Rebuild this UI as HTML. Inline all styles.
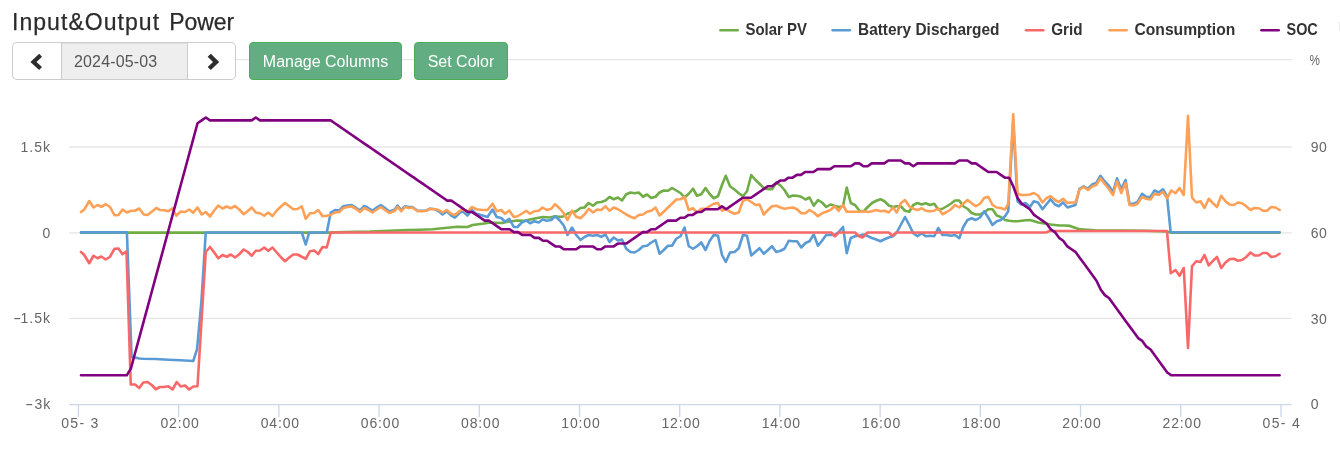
<!DOCTYPE html>
<html lang="en"><head><meta charset="utf-8"><title>Input&amp;Output Power</title>
<style>
html,body{margin:0;padding:0;background:#fff;}
body{width:1340px;height:450px;position:relative;overflow:hidden;font-family:"Liberation Sans",Arial,sans-serif;}
#chart{position:absolute;left:0;top:0;width:1340px;height:450px;}
h3{position:absolute;left:12px;top:8px;margin:0;font-weight:400;font-size:23px;line-height:28px;color:#2b2b2b;letter-spacing:1.05px;white-space:pre;-webkit-text-stroke:0.25px #2b2b2b;}
h3 span{position:absolute;left:151px;top:0;letter-spacing:-0.1px;}
.grp{position:absolute;left:12px;top:42px;height:38px;width:224px;box-sizing:border-box;display:flex;}
.grp div{box-sizing:border-box;height:38px;border:1px solid #ccc;background:#fff;}
.grp .l{width:49px;border-radius:5px 0 0 5px;border-right:0;}
.grp .m{width:127px;background:#eee;color:#555;font-size:16px;line-height:38px;padding-left:12px;letter-spacing:0.15px;box-shadow:inset 0 1px 1px rgba(0,0,0,.075);}
.grp .r{width:48px;border-radius:0 5px 5px 0;border-left:0;}
.grp svg{display:block}
.btn{position:absolute;top:42px;height:38px;box-sizing:border-box;background:#62ad82;border:1px solid #4aab52;border-radius:4px;color:#fff;font-size:16px;line-height:38px;text-align:center;white-space:nowrap;}
#b1{left:249px;width:153px;}
#b2{left:414px;width:94px;}
</style></head><body>
<svg id="chart" width="1340" height="450" viewBox="0 0 1340 450">
<rect width="1340" height="450" fill="#fff"/>
<rect x="1339" y="22" width="1" height="9" fill="#ebebef"/>
<g stroke="#e6e6e6" stroke-width="1.3" fill="none">
<path d="M69.1 59.7H1291.7"/><path d="M69.1 147H1291.7"/><path d="M69.1 232.8H1291.7"/><path d="M69.1 318.35H1291.7"/>
</g>
<g stroke="#ccd6eb" stroke-width="1.3" fill="none"><path d="M69.1 404.65H1291.7"/><path d="M78.45 404V417"/><path d="M178.66 404V417"/><path d="M278.87 404V417"/><path d="M379.08 404V417"/><path d="M479.29 404V417"/><path d="M579.50 404V417"/><path d="M679.71 404V417"/><path d="M779.92 404V417"/><path d="M880.13 404V417"/><path d="M980.34 404V417"/><path d="M1080.55 404V417"/><path d="M1180.76 404V417"/><path d="M1280.97 404V417"/></g>
<g fill="none" stroke-width="2.6" stroke-linejoin="round" stroke-linecap="round">
<path d="M81 232.6 L330 232.6 L345 232 L370 231.6 L395 230.5 L407.5 230 L420 229.75 L432.5 229.25 L445 228 L457.5 226.75 L467.5 227 L472.5 225 L482.5 223.75 L490 222.5 L495 222.75 L502.5 223 L507.5 221.75 L517.5 220.5 L525 220.75 L530 219.5 L537.5 218 L542.5 217 L550 217.5 L555 216.25 L559.25 216.75 L560 217 L563.75 216.25 L567.5 213.75 L572 212 L576.25 211.25 L580.5 208 L584.5 207.5 L588.75 203 L593 205.75 L597 202.5 L601.25 202 L605.5 200.5 L609.5 197 L613.75 199.25 L618 197.5 L622 200.5 L626.25 194.25 L630.5 192.5 L634.5 193.25 L638.75 192.5 L643 196.75 L647 194.5 L651.25 198 L655.5 196.75 L659.5 192.5 L663.75 190.5 L668 190.75 L672 188 L676.25 190.5 L680.5 193 L684.5 197.5 L688.75 193.75 L693 188.75 L697 195.75 L701.25 194.25 L705.5 188 L709.5 193.75 L713.75 198.25 L718 196.25 L722 185 L725.75 175.75 L730 186.25 L734.5 189.5 L738.75 193.25 L743 196.25 L747 191.25 L751.25 175 L755.5 180 L759.5 183.75 L763.75 188 L768 189.25 L772 189.25 L776.25 182.5 L780.5 185.5 L784.5 190 L788.75 197 L793 195.5 L797 195.75 L801.25 196.75 L805.5 199.5 L809.5 197.5 L813.75 205.75 L818 200 L822 202.5 L826.25 207 L830.5 204.5 L834.5 205.75 L838.75 207 L843 206.25 L846.75 187.5 L850.75 203 L855 205 L859.5 210.75 L863.75 211.25 L868 206.75 L872 203 L876.25 200.75 L880.5 199.25 L884.5 201.25 L888.75 205.5 L893 207 L896.75 206.25 L900.75 206.25 L905 210.75 L909.25 211.75 L913.25 205 L917.5 203 L921.75 204.5 L925.75 203.25 L930 205 L934.25 203.75 L938.25 209.5 L942.5 208.75 L946.75 206.25 L950.75 203.75 L955 200.5 L959.25 200.5 L963.25 206.25 L967.5 208.75 L971.75 213 L975.75 214.5 L980 214.5 L984.25 212.5 L988.25 209.25 L992.5 209.25 L996.75 215.5 L1000.75 217 L1005 220 L1009.25 220.75 L1013.25 221.25 L1017.5 221.25 L1021.75 220.75 L1025.75 220.25 L1030 220 L1034.25 221.25 L1038.25 222.5 L1042.5 223.25 L1046.75 223.75 L1050.75 224.5 L1055 225 L1059.25 225.5 L1065 225.5 L1070 225.9 L1080 229.4 L1095 230.2 L1145 230.8 L1166 231.5 L1171 232.6 L1279.6 232.6" stroke="#70ad47"/>
<path d="M81 232.4 L126.9 232.4 L131.6 357 L135 357.5 L139.25 358.5 L143.25 358.75 L155.75 359 L168.25 359.75 L180.75 360.25 L193.25 361 L197 349.5 L199.5 322.5 L201.5 300 L205.75 232.5 L301.75 232.5 L305.75 244.5 L309.25 232.5 L326.75 232.5 L330.75 212.5 L335 210 L339.25 210.5 L343.25 206.25 L347.5 205.5 L351.75 205 L355.75 207.5 L360 210.5 L364.25 206 L368.25 208 L372.5 210.5 L376.75 207.5 L380.75 205 L385 208 L389.25 211.5 L395 209.5 L397.5 205.5 L401.25 210 L405 206.25 L408.75 207 L412.5 207 L417.5 210.75 L422.5 210.75 L426.25 210.5 L430 208.75 L435 209.25 L438.75 211.25 L442.5 214.5 L446.75 211.25 L451.25 215.5 L455 217.5 L459.25 213.25 L462.5 211.25 L467.5 215.5 L471.75 210 L476.25 213.75 L482.5 215.5 L487.5 217 L492.5 209.5 L496.75 217 L501.25 218 L505 221.75 L509.25 218.75 L513.75 227 L517.5 227 L521.75 222.5 L526.25 220.5 L530 223.25 L534.25 221.25 L538.75 222.5 L542.5 219.5 L546.75 220.75 L551.25 220 L555 216.25 L559.25 220 L560 220.75 L563.75 225.5 L567.5 235 L572 227.5 L576.25 235 L580.5 240 L584.5 237 L588.75 235 L593 235.75 L597 235 L601.25 236.75 L605.5 234.5 L609.5 242 L613.75 237.5 L618 240.5 L622 239.5 L626.25 248.75 L630.5 252 L634.5 252.5 L638.75 250 L643 246.25 L647 245.75 L651.25 242.5 L655.5 240 L659.5 253.75 L663.75 250 L668 245.75 L672 245.75 L676.25 238.75 L680.5 236.25 L684.5 227.5 L688.75 246.25 L693 248.75 L697 246.25 L701.25 242.5 L705.5 250 L709.5 241.25 L713.75 235 L718 235.75 L722 255 L725.75 262 L730 252.5 L734.5 252 L738.75 248.25 L743 235 L747 235.75 L751.25 255.5 L755.5 251.75 L759.5 248.25 L763.75 253.75 L768 250 L772 246.25 L776.25 252 L780.5 250.75 L784.5 248.75 L788.75 240.75 L793 241.25 L797 241.25 L801.25 247.5 L805.5 243 L809.5 241.25 L813.75 234.5 L818 245.75 L822 240.75 L826.25 235 L830.5 235 L834.5 235 L838.75 232 L843 227 L846.75 253.25 L850.75 238 L855 236.25 L859.5 235.5 L863.75 234.5 L868 236.25 L872 238 L876.25 239.5 L880.5 241.25 L884.5 239.25 L888.75 237.5 L893 236.25 L896.75 232.5 L900.75 225 L905 217 L909.25 225 L913.25 233.25 L917.5 236.25 L921.75 233.25 L925.75 236.25 L930 235.75 L934.25 236.25 L938.25 228 L942.5 235 L946.75 235 L950.75 235.75 L955 235 L959.25 238.25 L963.25 227 L967.5 220 L971.75 218.25 L975.75 220 L980 217.5 L984.25 211.25 L988.25 217.5 L992.5 225 L996.75 221.25 L1000.75 220 L1005 216.25 L1008.25 211.25 L1013.2 121.5 L1017.5 201.25 L1021.25 204.5 L1025.5 203 L1030 207 L1033.75 201.25 L1038 202.5 L1042.5 209.25 L1046.25 204.5 L1050.5 199.25 L1055 204.5 L1058.75 206.25 L1063 202.5 L1067.5 207.5 L1071.25 206.25 L1075.5 205 L1079.5 188.75 L1083.75 186.25 L1088 188.75 L1092.5 184.25 L1096.25 183 L1100.5 175.75 L1104.5 181.25 L1108.75 185.75 L1113 192 L1117 178.25 L1121.25 189.5 L1125.5 180 L1129.5 203.75 L1133.75 203.75 L1137.5 202 L1142 193.75 L1146.25 196.75 L1150.5 197 L1154.5 190.5 L1158.75 192.5 L1163 189.25 L1167 196.25 L1170.7 232.3 L1279.6 232.3" stroke="#5b9bd5"/>
<path d="M81 252 L84.25 255 L89.25 263.25 L93.5 255.75 L97.5 258.25 L101.25 256.5 L105.75 259.5 L110 256.75 L114.5 248.75 L118.5 248.5 L122.5 254.25 L126.5 251.25 L130.75 384.5 L135 384.5 L139.25 388 L143.25 382.5 L147.5 382 L151.75 385 L155.75 389.25 L160 387 L164.25 387 L168.25 386.25 L172.5 389.5 L176.75 382 L180.75 386.5 L185 385.5 L189.25 389.5 L193.25 386.5 L197.5 386.25 L205.75 252 L210 247 L214.25 252.5 L218.25 258.25 L222.5 255 L226.75 256.75 L230.75 254.5 L235 257.5 L239.25 254.25 L243.75 249.5 L247.5 251.75 L251.75 255.75 L255.75 250.75 L260 250.5 L264.25 247.5 L268.25 250.75 L272.5 247.5 L276.75 252.5 L280.75 257 L285 261.25 L289.25 257.5 L293.25 254.5 L297.5 254.5 L301.75 256.75 L305.75 258.75 L310 251.25 L314.25 250.5 L318.25 254 L322.5 247 L326.75 247.5 L330.75 232.5 L831.25 232.5 L835 236.25 L838.75 232.5 L855 232.5 L858.75 236.25 L862.5 237.5 L867.5 232.5 L888.75 232.5 L892.5 235.75 L896.25 232.5 L1046 232.5 L1049.5 231 L1167 231 L1170.75 273.25 L1175.5 270 L1179.5 275.75 L1183.75 268 L1188 348 L1192 266.25 L1196.25 261.25 L1200.5 262 L1204.5 255 L1208.75 265.5 L1213 260.75 L1217 257 L1221.25 268 L1225.5 262.5 L1229.5 259.25 L1233.75 258.75 L1238 260.75 L1242 260 L1246.25 257 L1250.5 252.5 L1254.5 255.5 L1258.75 255.5 L1263 253 L1267 253 L1271.25 257 L1275.5 256.25 L1279.6 253.75" stroke="#f96868"/>
<path d="M81 212 L84.25 209.5 L89.25 201 L93.5 207.5 L97.5 205 L101.25 206.75 L105.75 204.25 L110 207 L114.5 215.25 L118.5 215 L122.5 209.5 L126.75 212.5 L131.25 210.75 L135 210.75 L139.25 208.5 L143.75 214.5 L147.5 215 L151.75 211.75 L156.25 208 L160 210 L164.25 210.25 L168.25 211.25 L172.5 208.25 L176.25 215.75 L180.75 211.5 L185 212 L189.25 209.5 L193.25 212.75 L197.5 207.5 L201.75 214.5 L205.75 212 L210 216.5 L214.25 210.5 L218.25 205.5 L222.5 208.5 L226.75 206.5 L230.75 208.25 L235 206 L239.25 209.5 L243.75 214.25 L247.5 211.25 L251.75 207.5 L255.75 212.5 L260 213.25 L264.25 215.75 L268.25 212.5 L272.5 216 L276.75 210.5 L280.75 206.75 L285 203 L289.25 206.25 L293.25 209.25 L297.5 209 L301.75 206.25 L305.75 218.75 L310 213.25 L314.25 213 L318.25 210 L322.5 216.25 L326.75 215.75 L330.75 215 L335 212.5 L339.25 212 L343.25 208 L347.5 207 L351.75 206.5 L355.75 208.75 L360 212 L364.25 208 L368.25 210 L372.5 212.5 L376.75 209.5 L380.75 207 L385 210 L389.25 213 L395 210.75 L397.5 207 L401.25 211.25 L405 207 L408.75 208 L412.5 207.5 L417.5 211.25 L422.5 211.25 L426.25 210.75 L430 208.75 L435 209.25 L438.75 210 L442.5 212.5 L446.75 210 L451.25 213.75 L455 215 L459.25 211.25 L462.5 209.25 L467.5 211.75 L471.75 207 L476.25 209.25 L482.5 210 L487.5 210 L492.5 203.75 L496.75 211.25 L501.25 210 L505 213.75 L509.25 210.5 L513.75 217 L517.5 216.25 L521.75 213.75 L526.25 210.75 L530 213.75 L534.25 211.25 L538.75 210.75 L542.5 207.5 L546.75 210 L551.25 208.75 L555 204.25 L559.25 208 L560 208.75 L563.75 213.25 L567.5 220 L572 210.75 L576.25 216.75 L580.5 218.25 L584.5 214.5 L588.75 208.75 L593 212.5 L597 209.5 L601.25 210 L605.5 206.25 L609.5 210.75 L613.75 207.5 L618 209.25 L622 211.75 L626.25 214.5 L630.5 216.75 L634.5 218.25 L638.75 215 L643 214.5 L647 211.75 L651.25 210.75 L655.5 207.5 L659.5 215.5 L663.75 211.75 L668 207.5 L672 203.75 L676.25 199.5 L680.5 199.25 L684.5 197 L688.75 210 L693 208.25 L697 212.5 L701.25 208.75 L705.5 208.75 L709.5 206.25 L713.75 203.75 L718 203 L722 210.75 L725.75 208.75 L730 211.75 L734.5 213.75 L738.75 212.5 L743 200.75 L747 199.25 L751.25 202 L755.5 205 L759.5 204.5 L763.75 214.5 L768 210 L772 206.25 L776.25 205.75 L780.5 207.5 L784.5 208.75 L788.75 208 L793 207.5 L797 209.25 L801.25 213.25 L805.5 213.25 L809.5 210 L813.75 212.5 L818 216.25 L822 213.25 L826.25 211.75 L830.5 210 L834.5 206.25 L838.75 210.75 L843 205 L846.75 211.75 L850.75 211.75 L855 211.75 L859.5 211.75 L863.75 211.25 L868 212 L872 211.25 L876.25 210 L880.5 211.25 L884.5 210.75 L888.75 212.5 L893 207.5 L896.75 212.5 L900.75 203.25 L905 200 L909.25 206.25 L913.25 208.75 L917.5 210 L921.75 208.25 L925.75 210.75 L930 211.25 L934.25 210.75 L938.25 208.25 L942.5 214.25 L946.75 212 L950.75 209.5 L955 205 L959.25 207.5 L963.25 203.75 L967.5 200 L971.75 203.25 L975.75 206.25 L980 203.75 L984.25 198 L988.25 196.75 L992.5 205 L996.75 207.5 L1000.75 208 L1005 209.5 L1008.25 203.75 L1013.2 114.25 L1017.5 193.5 L1021.25 195 L1025.5 195 L1030 194.5 L1033.75 193 L1038 195.5 L1042.5 202.5 L1046.25 198.25 L1050.5 196.25 L1055 200 L1058.75 202 L1063 198.75 L1067.5 203 L1071.25 202.5 L1075.5 202.5 L1079.5 189.5 L1083.75 187 L1088 190 L1092.5 186.25 L1096.25 185 L1100.5 178.25 L1104.5 183.75 L1108.75 188.75 L1113 195 L1117 181.25 L1121.25 193 L1125.5 183 L1129.5 205 L1133.75 205.5 L1137.5 203.75 L1142 197 L1146.25 198.75 L1150.5 199.5 L1154.5 193.75 L1158.75 195 L1163 191.75 L1167 198.25 L1171.25 190.5 L1175.5 193.25 L1179.5 188 L1183.75 195 L1188 115.75 L1192 197.5 L1196.25 202.5 L1200.5 201.25 L1204.5 208 L1208.75 198.75 L1213 203.25 L1217 207 L1221.25 195.75 L1225.5 201.25 L1229.5 204.5 L1233.75 205 L1238 202.5 L1242 203.25 L1246.25 206.25 L1250.5 210 L1254.5 208 L1258.75 208.25 L1263 210.75 L1267 210.75 L1271.25 207 L1275.5 207.5 L1279.6 210" stroke="#ffa057"/>
<path d="M81 375.31 L85.16 375.31 L89.32 375.31 L93.49 375.31 L97.65 375.31 L101.81 375.31 L105.97 375.31 L110.13 375.31 L114.29 375.31 L118.46 375.31 L122.62 375.31 L126.78 375.31 L130.94 368.29 L135.1 352.98 L139.27 337.67 L143.43 322.35 L147.59 307.04 L151.75 291.73 L155.91 276.41 L160.07 261.1 L164.24 245.79 L168.4 230.47 L172.56 215.16 L176.72 199.85 L180.88 184.53 L185.05 169.22 L189.21 153.9 L193.37 138.59 L197.53 123.28 L201.69 120.41 L205.85 117.55 L210.02 120.41 L214.18 120.41 L218.34 120.41 L222.5 120.41 L226.66 120.41 L230.82 120.41 L234.99 120.41 L239.15 120.41 L243.31 120.41 L247.47 120.41 L251.63 120.41 L255.8 117.55 L259.96 120.41 L264.12 120.41 L268.28 120.41 L272.44 120.41 L276.6 120.41 L280.77 120.41 L284.93 120.41 L289.09 120.41 L293.25 120.41 L297.41 120.41 L301.58 120.41 L305.74 120.41 L309.9 120.41 L314.06 120.41 L318.22 120.41 L322.38 120.41 L326.55 120.41 L330.71 120.41 L334.87 123.28 L339.03 126.14 L343.19 129.01 L347.36 131.87 L351.52 134.73 L355.68 137.6 L359.84 140.46 L364 143.33 L368.16 146.19 L372.33 149.05 L376.49 151.92 L380.65 154.78 L384.81 157.65 L388.97 160.51 L393.14 163.37 L397.3 166.24 L401.46 169.1 L405.62 171.97 L409.78 174.83 L413.94 177.69 L418.11 180.56 L422.27 183.42 L426.43 186.29 L430.59 189.15 L434.75 192.01 L438.91 194.88 L443.08 197.74 L447.24 200.61 L451.4 200.61 L455.56 203.47 L459.72 206.33 L463.89 209.2 L468.05 212.06 L472.21 212.06 L476.37 214.93 L480.53 217.79 L484.69 220.65 L488.86 220.65 L493.02 223.52 L497.18 226.38 L501.34 229.25 L505.5 229.25 L509.67 229.25 L513.83 232.11 L517.99 232.11 L522.15 234.97 L526.31 234.97 L530.47 234.97 L534.64 237.84 L538.8 237.84 L542.96 240.7 L547.12 240.7 L551.28 243.57 L555.45 246.43 L559.61 246.43 L563.77 249.29 L567.93 249.29 L572.09 249.29 L576.25 249.29 L580.42 246.43 L584.58 246.43 L588.74 246.43 L592.9 246.43 L597.06 249.29 L601.23 249.29 L605.39 246.43 L609.55 246.43 L613.71 246.43 L617.87 243.57 L622.03 243.57 L626.2 243.57 L630.36 240.7 L634.52 237.84 L638.68 234.97 L642.84 232.11 L647 232.11 L651.17 229.25 L655.33 229.25 L659.49 226.38 L663.65 223.52 L667.81 220.65 L671.98 220.65 L676.14 220.65 L680.3 217.79 L684.46 217.79 L688.62 214.93 L692.78 214.93 L696.95 212.06 L701.11 212.06 L705.27 209.2 L709.43 209.2 L713.59 209.2 L717.76 209.2 L721.92 206.33 L726.08 209.2 L730.24 206.33 L734.4 203.47 L738.56 200.61 L742.73 197.74 L746.89 197.74 L751.05 197.74 L755.21 194.88 L759.37 192.01 L763.54 189.15 L767.7 186.29 L771.86 186.29 L776.02 183.42 L780.18 180.56 L784.34 180.56 L788.51 177.69 L792.67 177.69 L796.83 174.83 L800.99 174.83 L805.15 171.97 L809.32 171.97 L813.48 171.97 L817.64 169.1 L821.8 169.1 L825.96 169.1 L830.12 169.1 L834.29 166.24 L838.45 166.24 L842.61 166.24 L846.77 166.24 L850.93 166.24 L855.09 163.37 L859.26 163.37 L863.42 166.24 L867.58 166.24 L871.74 163.37 L875.9 163.37 L880.07 163.37 L884.23 163.37 L888.39 160.51 L892.55 160.51 L896.71 160.51 L900.87 160.51 L905.04 163.37 L909.2 163.37 L913.36 166.24 L917.52 163.37 L921.68 163.37 L925.85 163.37 L930.01 163.37 L934.17 163.37 L938.33 163.37 L942.49 163.37 L946.65 163.37 L950.82 163.37 L954.98 163.37 L959.14 160.51 L963.3 160.51 L967.46 160.51 L971.63 163.37 L975.79 163.37 L979.95 166.24 L984.11 169.1 L988.27 171.97 L992.43 171.97 L996.6 171.97 L1000.76 174.83 L1004.92 177.69 L1009.08 177.69 L1013.24 186.29 L1017.41 197.74 L1021.57 203.47 L1025.73 206.33 L1029.89 209.2 L1034.05 214.93 L1038.21 217.79 L1042.38 220.65 L1046.54 223.52 L1050.7 229.25 L1054.86 232.11 L1059.02 237.84 L1063.18 240.7 L1067.35 246.43 L1071.51 249.29 L1075.67 252.16 L1079.83 257.89 L1083.99 263.61 L1088.16 269.34 L1092.32 275.07 L1096.48 280.8 L1100.64 289.39 L1104.8 295.12 L1108.96 297.98 L1113.13 303.71 L1117.29 309.44 L1121.45 315.17 L1125.61 320.89 L1129.77 326.62 L1133.94 332.35 L1138.1 338.08 L1142.26 340.94 L1146.42 346.67 L1150.58 349.53 L1154.74 355.26 L1158.91 360.99 L1163.07 366.72 L1167.23 372.45 L1171.39 375.31 L1175.55 375.31 L1179.72 375.31 L1183.88 375.31 L1188.04 375.31 L1192.2 375.31 L1196.36 375.31 L1200.52 375.31 L1204.69 375.31 L1208.85 375.31 L1213.01 375.31 L1217.17 375.31 L1221.33 375.31 L1225.5 375.31 L1229.66 375.31 L1233.82 375.31 L1237.98 375.31 L1242.14 375.31 L1246.3 375.31 L1250.47 375.31 L1254.63 375.31 L1258.79 375.31 L1262.95 375.31 L1267.11 375.31 L1271.27 375.31 L1275.44 375.31 L1279.6 375.31" stroke="#800080"/>
</g>
<g font-family="'Liberation Sans',Arial,sans-serif" font-size="14px" fill="#666" letter-spacing="0.45">
<g letter-spacing="0"><text x="20.6" y="151.7" textLength="29.4" lengthAdjust="spacing">1.5k</text><text x="50.2" y="237.6" text-anchor="end">0</text><text y="323.3"><tspan x="13.2" textLength="8" lengthAdjust="spacingAndGlyphs">-</tspan><tspan x="20.6" textLength="29.4" lengthAdjust="spacing">1.5k</tspan></text><text y="409.3"><tspan x="25.2" textLength="8" lengthAdjust="spacingAndGlyphs">-</tspan><tspan x="34.4" textLength="15.8" lengthAdjust="spacing">3k</tspan></text></g>
<g text-anchor="start" transform="translate(0.8 0)"><text x="1308.6" y="65" textLength="10.8" lengthAdjust="spacingAndGlyphs">%</text><text x="1310" y="152">90</text><text x="1310" y="238">60</text><text x="1310" y="324">30</text><text x="1310" y="409.3">0</text></g>
<text x="61.2" y="428.2" textLength="37.2" lengthAdjust="spacing" letter-spacing="0">05- 3</text><text x="180.1" y="428.2" text-anchor="middle" letter-spacing="0.85">02:00</text><text x="280.3" y="428.2" text-anchor="middle" letter-spacing="0.85">04:00</text><text x="380.5" y="428.2" text-anchor="middle" letter-spacing="0.85">06:00</text><text x="480.7" y="428.2" text-anchor="middle" letter-spacing="0.85">08:00</text><text x="580.9" y="428.2" text-anchor="middle" letter-spacing="0.85">10:00</text><text x="681.1" y="428.2" text-anchor="middle" letter-spacing="0.85">12:00</text><text x="781.3" y="428.2" text-anchor="middle" letter-spacing="0.85">14:00</text><text x="881.5" y="428.2" text-anchor="middle" letter-spacing="0.85">16:00</text><text x="981.7" y="428.2" text-anchor="middle" letter-spacing="0.85">18:00</text><text x="1082.0" y="428.2" text-anchor="middle" letter-spacing="0.85">20:00</text><text x="1182.2" y="428.2" text-anchor="middle" letter-spacing="0.85">22:00</text><text x="1262.6" y="428.2" textLength="37.2" lengthAdjust="spacing" letter-spacing="0">05- 4</text>
</g>
<g font-family="'Liberation Sans',Arial,sans-serif" font-size="15.7px" font-weight="bold" fill="#333" fill-opacity="1">
<path d="M720.5 30.3H737.6999999999999" stroke="#70ad47" stroke-width="2.6" stroke-linecap="round"/><text x="745.5" y="35" textLength="61.5" lengthAdjust="spacingAndGlyphs">Solar PV</text><path d="M832.6 30.3H849.8" stroke="#5b9bd5" stroke-width="2.6" stroke-linecap="round"/><text x="858" y="35" textLength="141.5" lengthAdjust="spacingAndGlyphs">Battery Discharged</text><path d="M1026.1000000000001 30.3H1043.3000000000002" stroke="#f96868" stroke-width="2.6" stroke-linecap="round"/><text x="1051.2" y="35" textLength="31.3" lengthAdjust="spacingAndGlyphs">Grid</text><path d="M1109.4 30.3H1126.6000000000001" stroke="#ffa057" stroke-width="2.6" stroke-linecap="round"/><text x="1134.5" y="35" textLength="100.8" lengthAdjust="spacingAndGlyphs">Consumption</text><path d="M1261.5 30.3H1278.7" stroke="#800080" stroke-width="2.6" stroke-linecap="round"/><text x="1286.5" y="35" textLength="31.3" lengthAdjust="spacingAndGlyphs">SOC</text>
</g>
</svg>
<h3>Input&amp;Output<span> Power</span></h3>
<div class="grp"><div class="l"><svg width="48" height="36" viewBox="0 0 48 36"><path d="M17.4 18.9L26.2 10.7L29 13.7L23.5 18.9L29 24.1L26.2 27.1Z" fill="#2d2d2d"/></svg></div><div class="m">2024-05-03</div><div class="r"><svg width="47" height="36" viewBox="0 0 47 36"><path d="M31.2 18.9L22.8 10.7L19.7 13.8L25 18.9L19.7 24L22.8 27.1Z" fill="#2d2d2d"/></svg></div></div>
<div class="btn" id="b1">Manage Columns</div>
<div class="btn" id="b2">Set Color</div>
</body></html>
